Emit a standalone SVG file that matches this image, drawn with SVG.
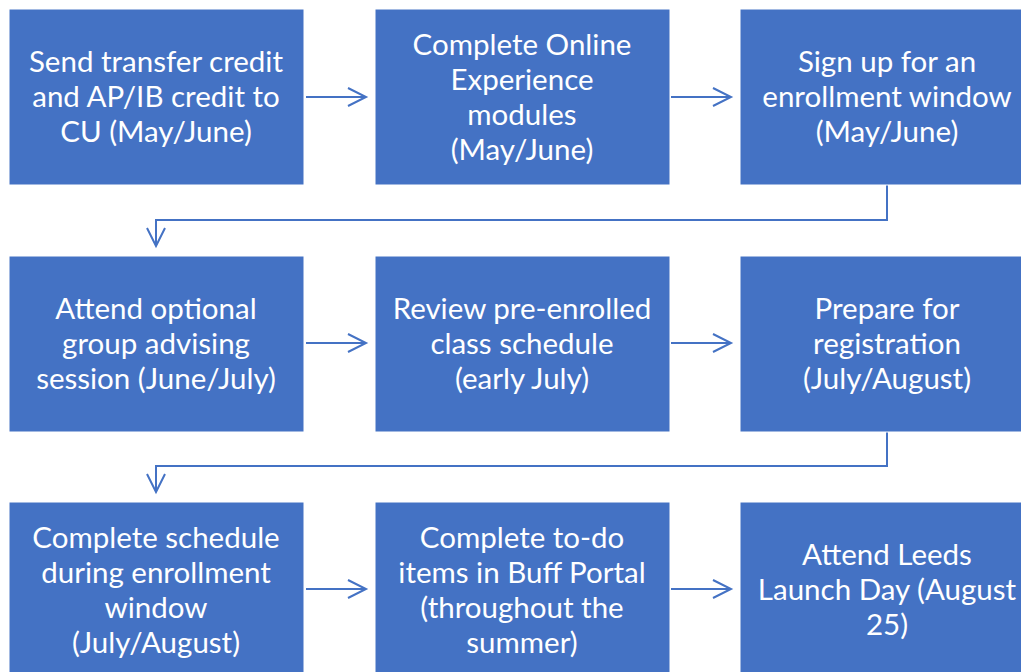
<svg xmlns="http://www.w3.org/2000/svg" width="1021" height="672" viewBox="0 0 1021 672">
<style>
.box{fill:#4472C4;stroke:#ffffff;stroke-width:1}
.t{font-family:Lato,"Open Sans","Liberation Sans",sans-serif;font-size:29.5px;fill:#ffffff;text-anchor:middle;dominant-baseline:central}
.c{fill:none;stroke:#4472C4;stroke-width:2}
</style>
<defs>
<marker id="ah" markerWidth="12" markerHeight="12" refX="10" refY="6" orient="auto" markerUnits="userSpaceOnUse" viewBox="0 0 12 12" overflow="visible">
<path d="M-8,-3 L10,6 L-8,15" fill="none" stroke="#4472C4" stroke-width="2"/>
</marker>
</defs>
<rect width="1021" height="672" fill="#ffffff"/>
<g id="connectors">
<line class="c" x1="306" y1="97" x2="366" y2="97" marker-end="url(#ah)"/>
<line class="c" x1="671" y1="97" x2="731" y2="97" marker-end="url(#ah)"/>
<path class="c" d="M887,185 V220 H156 V246" marker-end="url(#ah)"/>
<line class="c" x1="306" y1="343" x2="366" y2="343" marker-end="url(#ah)"/>
<line class="c" x1="671" y1="343" x2="731" y2="343" marker-end="url(#ah)"/>
<path class="c" d="M887,431 V466 H156 V492" marker-end="url(#ah)"/>
<line class="c" x1="306" y1="589" x2="366" y2="589" marker-end="url(#ah)"/>
<line class="c" x1="671" y1="589" x2="731" y2="589" marker-end="url(#ah)"/>
</g>
<g id="n1"><rect class="box" x="9" y="9" width="295" height="176"/>
<text class="t" x="156" y="60">Send transfer credit</text><text class="t" x="156" y="95">and AP/IB credit to</text><text class="t" x="156" y="130">CU (May/June)</text></g>
<g id="n2"><rect class="box" x="375" y="9" width="295" height="176"/>
<text class="t" x="522" y="43">Complete Online</text><text class="t" x="522" y="78">Experience</text><text class="t" x="522" y="113">modules</text><text class="t" x="522" y="148">(May/June)</text></g>
<g id="n3"><rect class="box" x="740" y="9" width="295" height="176"/>
<text class="t" x="887" y="60">Sign up for an</text><text class="t" x="887" y="95">enrollment window</text><text class="t" x="887" y="130">(May/June)</text></g>
<g id="n4"><rect class="box" x="9" y="256" width="295" height="176"/>
<text class="t" x="156" y="307">Attend optional</text><text class="t" x="156" y="342">group advising</text><text class="t" x="156" y="377">session (June/July)</text></g>
<g id="n5"><rect class="box" x="375" y="256" width="295" height="176"/>
<text class="t" x="522" y="307">Review pre-enrolled</text><text class="t" x="522" y="342">class schedule</text><text class="t" x="522" y="377">(early July)</text></g>
<g id="n6"><rect class="box" x="740" y="256" width="295" height="176"/>
<text class="t" x="887" y="307">Prepare for</text><text class="t" x="887" y="342">registration</text><text class="t" x="887" y="377">(July/August)</text></g>
<g id="n7"><rect class="box" x="9" y="502" width="295" height="176"/>
<text class="t" x="156" y="536">Complete schedule</text><text class="t" x="156" y="571">during enrollment</text><text class="t" x="156" y="606">window</text><text class="t" x="156" y="641">(July/August)</text></g>
<g id="n8"><rect class="box" x="375" y="502" width="295" height="176"/>
<text class="t" x="522" y="536">Complete to-do</text><text class="t" x="522" y="571">items in Buff Portal</text><text class="t" x="522" y="606">(throughout the</text><text class="t" x="522" y="641">summer)</text></g>
<g id="n9"><rect class="box" x="740" y="502" width="295" height="176"/>
<text class="t" x="887" y="553">Attend Leeds</text><text class="t" x="887" y="588">Launch Day (August</text><text class="t" x="887" y="623">25)</text></g>
</svg>
